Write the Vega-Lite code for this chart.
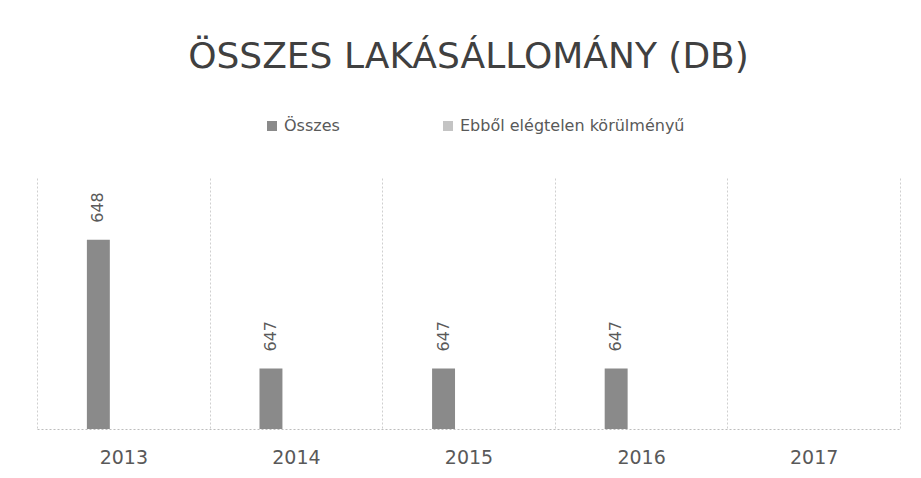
{
  "$schema": "https://vega.github.io/schema/vega-lite/v6.json",
  "width": 863,
  "height": 251,
  "autosize": "none",
  "padding": {"left": 37, "top": 178, "right": 21, "bottom": 49},
  "background": "white",
  "title": {
    "text": "ÖSSZES LAKÁSÁLLOMÁNY (DB)",
    "font": "DejaVu Sans",
    "fontSize": 36,
    "fontWeight": "normal",
    "color": "#404040",
    "anchor": "middle",
    "baseline": "alphabetic",
    "offset": 14
  },
  "data": {
    "values": [
      {"year": "2013", "series": "Összes", "value": 648},
      {"year": "2014", "series": "Összes", "value": 647},
      {"year": "2015", "series": "Összes", "value": 647},
      {"year": "2016", "series": "Összes", "value": 647},
      {"year": "2017", "series": "Összes", "value": null}
    ]
  },
  "encoding": {
    "x": {
      "field": "year",
      "type": "nominal",
      "scale": {"domain": ["2013", "2014", "2015", "2016", "2017"], "paddingInner": 0, "paddingOuter": 0},
      "axis": {
        "title": null,
        "labelAngle": 0,
        "ticks": false,
        "grid": true,
        "tickBand": "extent",
        "gridColor": "#cfcfcf",
        "gridDash": [2, 2],
        "domainColor": "#bdbdbd",
        "domainDash": [2, 2],
        "labelFont": "DejaVu Sans",
        "labelFontSize": 19,
        "labelColor": "#595959",
        "labelPadding": 19
      }
    },
    "xOffset": {
      "field": "series",
      "type": "nominal",
      "scale": {"domain": ["Összes", "Ebből elégtelen körülményű"], "paddingInner": 0.54, "paddingOuter": 1.16}
    },
    "y": {
      "field": "value",
      "type": "quantitative",
      "scale": {"domain": [646.53, 648.48], "zero": false, "nice": false},
      "axis": null
    }
  },
  "layer": [
    {
      "mark": {"type": "bar", "clip": true},
      "encoding": {
        "color": {
          "field": "series",
          "type": "nominal",
          "scale": {"domain": ["Összes", "Ebből elégtelen körülményű"], "range": ["#8a8a8a", "#c4c4c4"]},
          "legend": {
            "title": null,
            "orient": "none",
            "legendX": 227,
            "legendY": -60,
            "direction": "horizontal",
            "symbolType": "square",
            "symbolSize": 100,
            "symbolStrokeWidth": 0,
            "labelFont": "DejaVu Sans",
            "labelFontSize": 16,
            "labelColor": "#595959",
            "labelLimit": 400,
            "columnPadding": 100
          }
        }
      }
    },
    {
      "mark": {
        "type": "text",
        "angle": 270,
        "align": "left",
        "baseline": "middle",
        "dx": 17,
        "font": "DejaVu Sans",
        "fontSize": 16,
        "color": "#595959"
      },
      "encoding": {"text": {"field": "value", "type": "quantitative"}}
    }
  ],
  "config": {"view": {"stroke": null}}
}
